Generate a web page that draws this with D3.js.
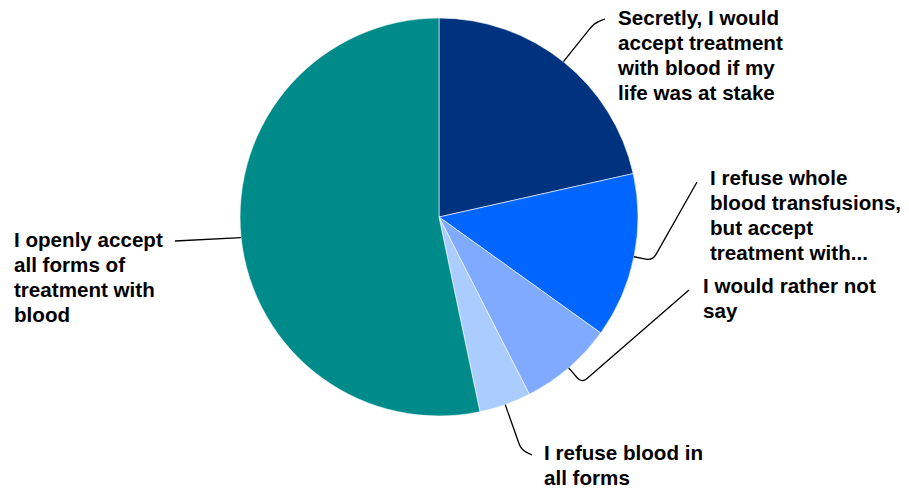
<!DOCTYPE html>
<html><head><meta charset="utf-8">
<script src="https://cdn.jsdelivr.net/npm/d3@7"></script>
<style>body{margin:0;background:#fff}svg{display:block}</style>
</head><body>
<svg id="c" width="909" height="491"></svg>
<script>
const categories = [
  "Secretly, I would accept treatment with blood if my life was at stake",
  "I refuse whole blood transfusions, but accept treatment with...",
  "I would rather not say",
  "I refuse blood in all forms",
  "I openly accept all forms of treatment with blood"
];
const values = [21.5, 13.4, 7.6, 4.2, 53.3];
const colors = ["#00337f", "#0066ff", "#7faaff", "#aaccff", "#008b8b"];
const labelLines = [
  ["Secretly, I would", "accept treatment", "with blood if my", "life was at stake"],
  ["I refuse whole", "blood transfusions,", "but accept", "treatment with..."],
  ["I would rather not", "say"],
  ["I refuse blood in", "all forms"],
  ["I openly accept", "all forms of", "treatment with", "blood"]
];
// label layout: text x, first baseline, leader radial extension, leader end point
const labelPos = [
  {x: 618, y: 25, ext: 49, end: [605, 19]},
  {x: 710, y: 185, ext: 19, end: [697, 182]},
  {x: 703, y: 293, ext: 20, end: [689, 290]},
  {x: 544, y: 460, ext: 48, end: [532, 455]},
  {x: 14, y: 247, ext: 0, end: [175, 241]}
];

const svg = d3.select("#c");
const cx = 439, cy = 217, R = 199;
const g = svg.append("g").attr("transform", `translate(${cx},${cy})`);
const pie = d3.pie().sort(null).value(d => d)(values);
const arc = d3.arc().innerRadius(0).outerRadius(R);
g.selectAll("path.s").data(pie).join("path")
  .attr("class", "s")
  .attr("d", arc)
  .attr("fill", (d, i) => colors[i])
  .attr("stroke", "#fff").attr("stroke-width", 0.6);

// leader lines
pie.forEach((d, i) => {
  const a = (d.startAngle + d.endAngle) / 2;
  const p0 = [cx + R * Math.sin(a), cy - R * Math.cos(a)];
  const L = labelPos[i];
  const p1 = [cx + (R + L.ext) * Math.sin(a), cy - (R + L.ext) * Math.cos(a)];
  const p2 = L.end;
  let dpath;
  if (L.ext === 0) {
    dpath = `M${p0[0]},${p0[1]}L${p2[0]},${p2[1]}`;
  } else {
    const r = 7;
    const d01 = Math.hypot(p1[0]-p0[0], p1[1]-p0[1]);
    const d12 = Math.hypot(p2[0]-p1[0], p2[1]-p1[1]);
    const a1 = [p1[0] - (p1[0]-p0[0]) / d01 * Math.min(r, d01/2), p1[1] - (p1[1]-p0[1]) / d01 * Math.min(r, d01/2)];
    const a2 = [p1[0] + (p2[0]-p1[0]) / d12 * Math.min(r, d12/2), p1[1] + (p2[1]-p1[1]) / d12 * Math.min(r, d12/2)];
    dpath = `M${p0[0]},${p0[1]}L${a1[0]},${a1[1]}Q${p1[0]},${p1[1]} ${a2[0]},${a2[1]}L${p2[0]},${p2[1]}`;
  }
  svg.append("path").attr("d", dpath).attr("fill", "none")
    .attr("stroke", "#000").attr("stroke-width", 1.3);
  const t = svg.append("text")
    .attr("font-family", "'Liberation Sans', Arial, sans-serif")
    .attr("font-weight", "bold").attr("font-size", 20.6).attr("fill", "#000");
  labelLines[i].forEach((ln, j) => {
    t.append("tspan").attr("x", L.x).attr("y", L.y + j * 25).text(ln);
  });
});
</script>
</body></html>
